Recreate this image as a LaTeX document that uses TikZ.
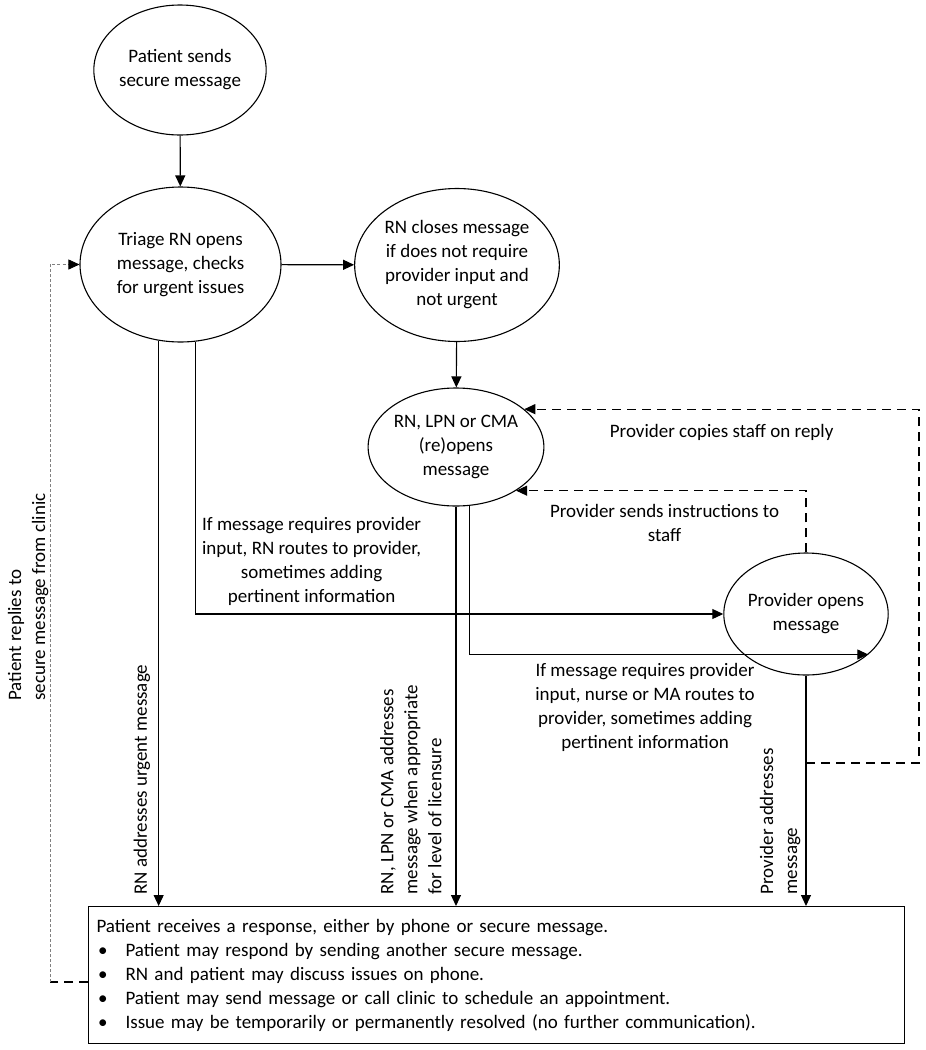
\documentclass[tikz,border=0pt]{standalone}
\usepackage{fontspec}
\setmainfont{Carlito}
\usetikzlibrary{shapes.geometric,arrows.meta,calc}
\begin{document}
\begin{tikzpicture}[x=1pt, y=-1pt, line width=1.1pt,
		font=\fontsize{19}{24}\selectfont,
		>={Triangle[length=11pt,width=10pt]},
		lbl/.style={align=center, inner sep=2pt},
		vlbl/.style={rotate=90, align=left, anchor=south west, inner sep=2pt},
		dashline/.style={dash pattern=on 9pt off 6pt},
		retline/.style={gray, line width=0.8pt, dash pattern=on 3pt off 2pt}]
	\useasboundingbox (0,0) rectangle (926,1050);
	
	\begin{scope}[every node/.style={ellipse, draw, align=center, inner sep=0pt}]
		\node (send) at (180,70) [minimum width=164, minimum height=130] {Patient sends\\secure message};
		\node (tri) at (180.5,264.5) [minimum width=201, minimum height=155] {Triage RN opens\\message, checks\\for urgent issues};
		\node (cls) at (457,265) [minimum width=204, minimum height=153] {RN closes message\\if does not require\\provider input and\\not urgent};
		\node (re) at (456,447) [minimum width=152, minimum height=118] {RN, LPN or CMA\\(re)opens\\message};
		\node (prov) at (806,614) [minimum width=156, minimum height=122] {Provider opens\\message};
	\end{scope}
	
	\node (resp) at (88,906) [anchor=north west, draw, align=left, text width=800pt, inner xsep=8pt, inner ysep=0pt, minimum height=137] {Patient receives a response, either by phone or secure message.\\
		\hspace*{1.5pt}\makebox[27.5pt][l]{\textbullet}Patient may respond by sending another secure message.\\
		\hspace*{1.5pt}\makebox[27.5pt][l]{\textbullet}RN and patient may discuss issues on phone.\\
		\hspace*{1.5pt}\makebox[27.5pt][l]{\textbullet}Patient may send message or call clinic to schedule an appointment.\\
		\hspace*{1.5pt}\makebox[27.5pt][l]{\textbullet}Issue may be temporarily or permanently resolved (no further communication).};
	
	% main flow
	\path [->] (send) edge (tri);
	\path [->] (tri) edge (cls);
	\path [->] (cls) edge (re);
	\draw [->] (tri.254) -- (tri.254 |- resp.north);
	\draw [->] (re.south) -- (re.south |- resp.north);
	\draw [->] (prov.south) -- (prov.south |- resp.north);
	\draw [->] (tri.281) |- (prov.west)
		node [lbl, pos=0.61, above=6pt] {If message requires provider\\input, RN routes to provider,\\sometimes adding\\pertinent information};
	\draw [->] (re.283) |- (prov.327)
		node [lbl, pos=0.72, below=6pt] {If message requires provider\\input, nurse or MA routes to\\provider, sometimes adding\\pertinent information};
	
	% provider back to staff
	\coordinate (cp) at (806,763);
	\coordinate (rt) at (919,763);
	\draw [->, dashline] (prov.north) |- (re.324)
		node [lbl, pos=0.744, below=11pt] {Provider sends instructions to\\staff};
	\draw [->, dashline] (cp) -- (rt) |- (re.29)
		node [lbl, pos=0.75, below=13pt] {Provider copies staff on reply};
	
	% patient replies
	\coordinate (bl) at (50,982);
	\draw [dashline] (resp.west |- bl) -- (bl);
	\draw [retline, -{Triangle[length=11pt,width=10pt,color=black]}] (bl) |- (tri.west);
	
	\node [vlbl] (urgtxt) at ($(tri.254 |- resp.north)+(-6,-9)$) {RN addresses urgent message};
	\node [vlbl] (lictxt) at ($(re.south |- resp.north)+(-12,-9)$) {RN, LPN or CMA addresses\\message when appropriate\\for level of licensure};
	\node [vlbl] (provtxt) at ($(prov.south |- resp.north)+(-3,-9)$) {Provider addresses\\message};
	\node [vlbl] (rettxt) at (51,703) {Patient replies to\\secure message from clinic};
\end{tikzpicture}
\end{document}
